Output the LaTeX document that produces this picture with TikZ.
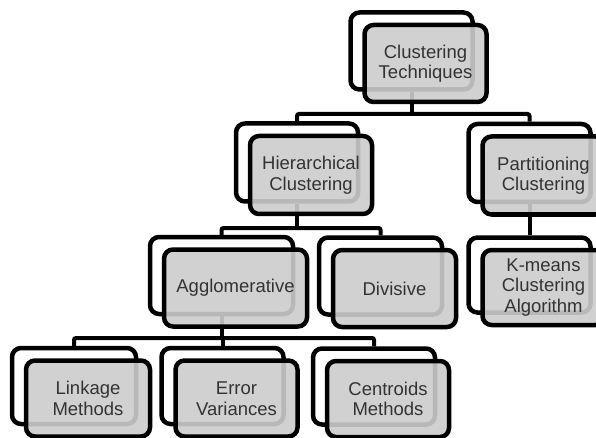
\documentclass[tikz,border=0pt]{standalone}
\usepackage{fontspec}
\setmainfont{Liberation Sans}
\begin{document}
\begin{tikzpicture}[x=1pt,y=-1pt,
  backframe/.style={draw=black, line width=4.5pt, fill=white, rounded corners=9pt,
    inner sep=0pt},
  frontbox/.style={draw=black, line width=4.5pt, fill={rgb,255:red,204;green,204;blue,204},
    fill opacity=0.9, text opacity=1, rounded corners=9pt, inner sep=0pt,
    align=center, text=black!80, font=\fontsize{18.5}{20.5}\selectfont},
  joinline/.style={draw=black, line width=4pt, rounded corners=2pt}]
\useasboundingbox (0,0) rectangle (596,438);
\clip (0,0) rectangle (596,438);

% back frames
\node[backframe, minimum width=122pt, minimum height=77pt] (rootB) at (411.5,51) {};
\node[backframe, minimum width=122pt, minimum height=78pt] (hierB) at (297,162.5) {};
\node[backframe, minimum width=122pt, minimum height=78pt] (partB) at (529.5,163) {};
\node[backframe, minimum width=143pt, minimum height=77pt] (agglB) at (221.5,275.5) {};
\node[backframe, minimum width=123pt, minimum height=77pt] (diviB) at (380.5,276) {};
\node[backframe, minimum width=122pt, minimum height=75pt] (kmeaB) at (529.5,275) {};
\node[backframe, minimum width=124pt, minimum height=76pt] (linkB) at (74,386) {};
\node[backframe, minimum width=122pt, minimum height=76pt] (erroB) at (222.5,386) {};
\node[backframe, minimum width=122pt, minimum height=76pt] (centB) at (374,386.5) {};

% bus levels
\coordinate (bus1) at (0,114);
\coordinate (bus2) at (0,228);
\coordinate (bus3) at (0,338);

% connectors
\draw[joinline] (rootB.south) -- (rootB.south |- bus1);
\draw[joinline] (hierB.north) |- (partB.north |- bus1) -- (partB.north);
\draw[joinline] (hierB.south) -- (hierB.south |- bus2);
\draw[joinline] (agglB.north) |- (diviB.north |- bus2) -- (diviB.north);
\draw[joinline] (partB.south) -- (partB.south |- kmeaB.north);
\draw[joinline] (agglB.south) -- (agglB.south |- bus3);
\draw[joinline] (linkB.north) |- (centB.north |- bus3) -- (centB.north);
\draw[joinline] (erroB.north) -- (erroB.north |- bus3);

% front boxes
\node[frontbox, minimum width=122pt, minimum height=77pt] (root) at (425.5,63.5) {Clustering\\Techniques};
\node[frontbox, minimum width=122pt, minimum height=78pt] (hier) at (311,175) {Hierarchical\\Clustering};
\node[frontbox, minimum width=122pt, minimum height=78pt] (part) at (543.5,175.5) {Partitioning\\Clustering};
\node[frontbox, minimum width=143pt, minimum height=77pt] (aggl) at (235.5,288) {Agglomerative};
\node[frontbox, minimum width=123pt, minimum height=77pt] (divi) at (394.5,288.5) {Divisive};
\node[frontbox, minimum width=122pt, minimum height=75pt] (kmea) at (543.5,287.5) {K-means\\Clustering\\Algorithm};
\node[frontbox, minimum width=124pt, minimum height=76pt] (link) at (88,398.5) {Linkage\\Methods};
\node[frontbox, minimum width=122pt, minimum height=76pt] (erro) at (236.5,398.5) {Error\\Variances};
\node[frontbox, minimum width=122pt, minimum height=76pt] (cent) at (388,399) {Centroids\\Methods};
\end{tikzpicture}
\end{document}
